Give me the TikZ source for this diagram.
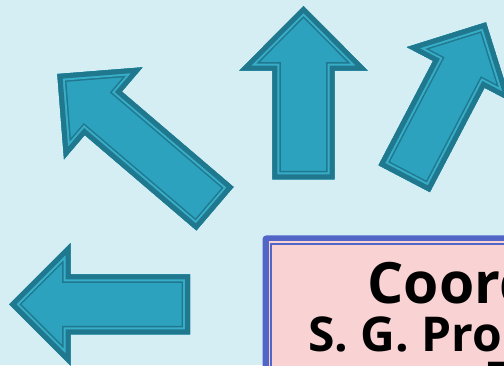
\documentclass[tikz,border=0pt]{standalone}
\usepackage{fontspec}
\setmainfont{Open Sans}
\definecolor{bgc}{HTML}{D5EEF4}
\definecolor{arrowfill}{HTML}{2CA2BE}
\definecolor{arrowdark}{HTML}{1F788E}
\definecolor{arrowlight}{HTML}{38ADC8}
\definecolor{boxblue}{HTML}{5266C8}
\definecolor{boxpink}{HTML}{F9D2D4}
\newcommand\bigarrow[7]{% #1 x, #2 y, #3 angle, #4 length, #5 shaft half, #6 head hw, #7 head len
\begin{scope}[shift={(#1,#2)}, rotate=#3]
\def\ap{(0,-#5) -- ({#4-#7},-#5) -- ({#4-#7},-#6) -- (#4,0) -- ({#4-#7},#6) -- ({#4-#7},#5) -- (0,#5) -- cycle}
\begin{scope}
\clip \ap;
\fill[arrowfill] \ap;
\draw[arrowdark, line width=17pt, line join=miter] \ap;
\draw[arrowlight, line width=14pt, line join=miter] \ap;
\draw[arrowdark, line width=10pt, line join=miter] \ap;
\end{scope}
\end{scope}}
\begin{document}
\begin{tikzpicture}[x=1pt,y=1pt]
\useasboundingbox (0,0) rectangle (504,365);
\clip (0,0) rectangle (504,365);
\fill[bgc] (0,0) rectangle (504,365);
% arrows
\bigarrow{303.5}{185.7}{90}{173.3}{31.2}{64.3}{64.7}
\bigarrow{215}{156.3}{139.5}{207.4}{28.6}{60.5}{60.5}
\bigarrow{404.2}{186.3}{62.4}{176.5}{29}{58.7}{58.7}
\bigarrow{190}{60.7}{180}{180.7}{30}{61.3}{61.3}
% central box
\fill[boxblue, rounded corners=4pt] (262.5,129.7) rectangle (540,-40);
\fill[boxpink] (268.5,123.7) rectangle (540,-40);
\fill[boxblue] (270.2,122) rectangle (540,-40);
\fill[boxpink] (271.8,120.4) rectangle (540,-40);
\node[anchor=base west, inner sep=0pt, font=\fontsize{57}{60}\selectfont\bfseries] (t1) at (367.4,61.7) {Coord};
\node[anchor=base west, inner sep=0pt, font=\fontsize{48}{52}\selectfont\bfseries] (t2) at (308,14) {S. G. Pro};
\node[anchor=base west, inner sep=0pt, font=\fontsize{48}{52}\selectfont\bfseries] (t3) at (487.5,-31) {T};
\end{tikzpicture}
\end{document}
